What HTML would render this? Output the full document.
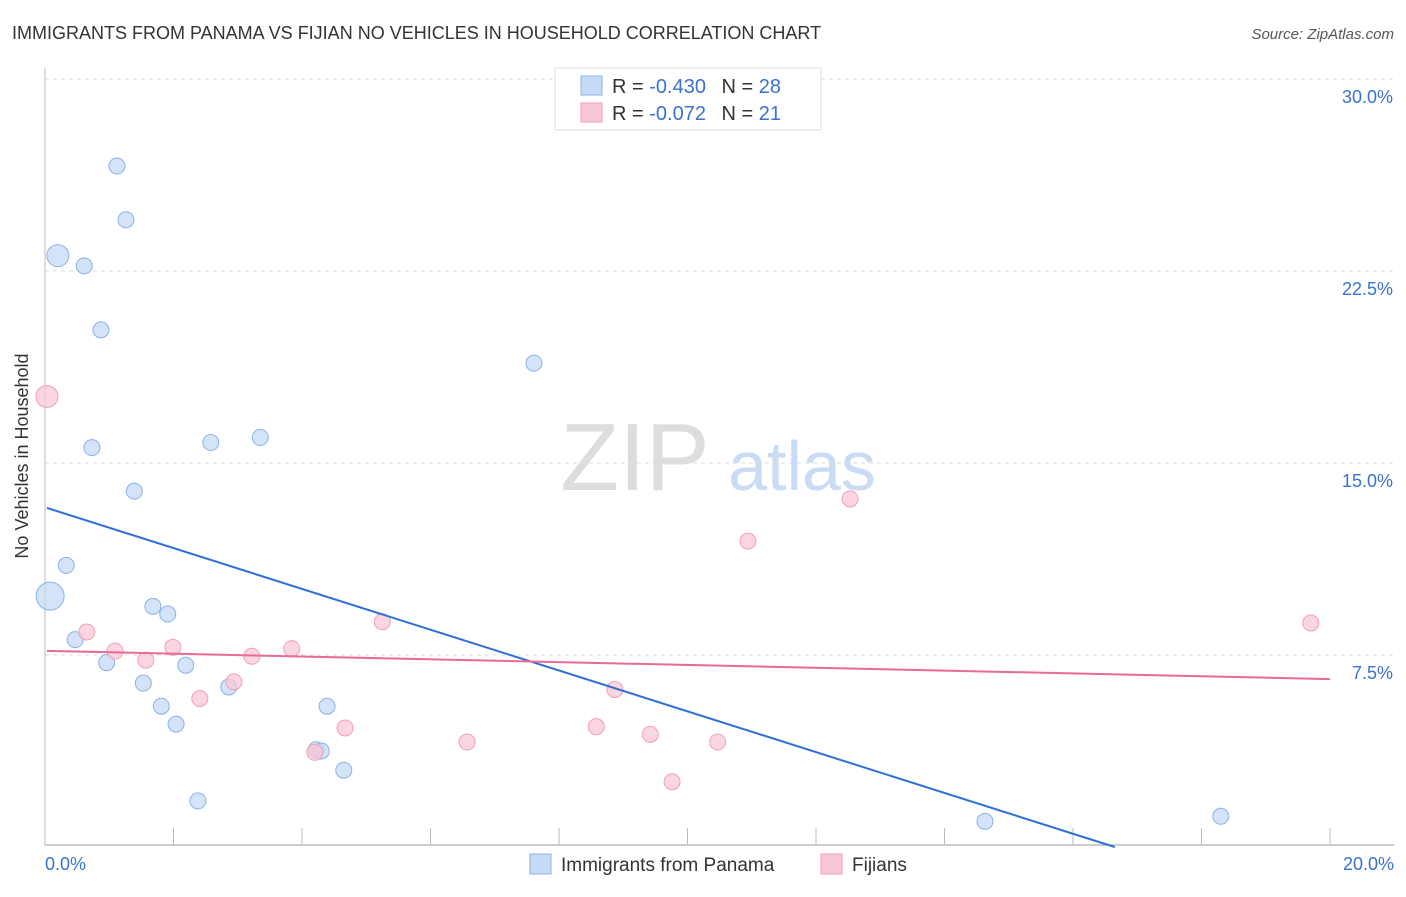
<!DOCTYPE html>
<html><head><meta charset="utf-8"><style>
body{margin:0;background:#fff;font-family:"Liberation Sans",sans-serif;}
svg text{font-family:"Liberation Sans",sans-serif;}
</style></head><body>
<svg width="1406" height="892" id="c">
<text x="12" y="39" font-size="18" fill="#333">IMMIGRANTS FROM PANAMA VS FIJIAN NO VEHICLES IN HOUSEHOLD CORRELATION CHART</text>
<text x="1394" y="39" font-size="15" fill="#555" font-style="italic" text-anchor="end">Source: ZipAtlas.com</text>
<text x="28" y="456" font-size="18" fill="#333" text-anchor="middle" transform="rotate(-90 28 456)">No Vehicles in Household</text>
<g><text x="635" y="490" font-size="96" fill="#ddd" font-family="Liberation Serif" text-anchor="middle">ZIP</text><text x="802" y="490" font-size="70" fill="#c9dcf3" text-anchor="middle">atlas</text></g>
<g id="grid"></g><g id="marks"></g>
<g>
<rect x="555" y="68" width="266" height="62" fill="#fff" stroke="#ddd"/>
<rect x="581" y="76" width="21" height="19" fill="#c5daf5" stroke="#8ab2e6"/>
<rect x="581" y="103" width="21" height="19" fill="#f9c7d6" stroke="#efa0b8"/>
<text x="612" y="93" font-size="20" fill="#333">R = <tspan fill="#3a72d1">-0.430</tspan>  <tspan dx="10">N = </tspan><tspan fill="#3a72d1">28</tspan></text>
<text x="612" y="120" font-size="20" fill="#333">R = <tspan fill="#3a72d1">-0.072</tspan>  <tspan dx="10">N = </tspan><tspan fill="#3a72d1"> 21</tspan></text>
</g>
<g>
<rect x="530" y="854" width="21" height="20" fill="#c5daf5" stroke="#8ab2e6"/>
<text x="561" y="871" font-size="19" fill="#333">Immigrants from Panama</text>
<rect x="821" y="854" width="21" height="20" fill="#f9c7d6" stroke="#efa0b8"/>
<text x="852" y="871" font-size="19" fill="#333">Fijians</text>
</g>
</svg>
<script>
const xTicks=[0,20];
const yTicks=[7.5,15,22.5,30];
const panamaX=[1.12,1.26,0.2,0.61,0.87,7.61,0.73,2.58,3.35,1.39,0.33,0.08,1.68,1.91,0.47,0.96,2.19,1.53,2.86,1.81,2.04,4.39,4.22,4.3,4.65,2.38,14.63,18.3];
const panamaY=[26.6,24.5,23.1,22.7,20.2,18.9,15.6,15.8,16.0,13.9,11.0,9.8,9.4,9.1,8.1,7.2,7.1,6.4,6.25,5.5,4.8,5.5,3.8,3.75,3.0,1.8,1.0,1.2];
const panamaR=[8,8,11,8,8,8,8,8,8,8,8,14,8,8,8,8,8,8,8,8,8,8,8,8,8,8,8,8];
const fijiX=[0.03,0.65,1.09,1.57,1.99,3.22,3.84,2.94,2.41,5.25,4.67,4.2,6.57,8.58,8.87,9.42,9.76,10.47,10.94,12.53,19.7];
const fijiY=[17.6,8.4,7.65,7.3,7.8,7.45,7.75,6.45,5.8,8.8,4.65,3.7,4.1,4.7,6.15,4.4,2.55,4.1,11.95,13.6,8.75];
const fijiR=[11,8,8,8,8,8,8,8,8,8,8,8,8,8,8,8,8,8,8,8,8];
const panamaTrend=[13.27,-0.797];
const fijiTrend=[7.66,-0.055];
const X=v=>45+v*64.25, Y=v=>847-v*25.6;
const NS='http://www.w3.org/2000/svg';
function mk(t,a,p){const e=document.createElementNS(NS,t);for(const k in a)e.setAttribute(k,a[k]);p.appendChild(e);return e;}
const g=document.getElementById('grid'),m=document.getElementById('marks');
yTicks.forEach(t=>{const l=mk('line',{x1:45,x2:1394,y1:Y(t),y2:Y(t),stroke:'#ddd','stroke-dasharray':'4 4'},g);


const tx=mk('text',{x:1393,y:Y(t)+24,'font-size':18,fill:'#3a72d1','text-anchor':'end'},g);tx.textContent=t.toFixed(1)+'%';

});
mk('line',{x1:45,x2:45,y1:68,y2:845,stroke:'#bbb'},g);
mk('line',{x1:45,x2:1394,y1:845,y2:845,stroke:'#bbb','stroke-width':1.5},g);
for(let i=1;i<=10;i++){mk('line',{x1:X(i*2),x2:X(i*2),y1:828,y2:845,stroke:'#bbb'},g);}
xTicks.forEach((t,i)=>{const tx=mk('text',{x:i?1394:45,y:870,'font-size':18,fill:'#3a72d1','text-anchor':i?'end':'start'},g);tx.textContent=t.toFixed(1)+'%';

});
panamaX.forEach((v,i)=>{const c=mk('circle',{cx:X(v),cy:Y(panamaY[i]),r:panamaR[i],fill:'#c5daf5','fill-opacity':0.75,stroke:'#8ab2e6'},m);

});
fijiX.forEach((v,i)=>{const c=mk('circle',{cx:X(v),cy:Y(fijiY[i]),r:fijiR[i],fill:'#f9c7d6','fill-opacity':0.75,stroke:'#efa0b8'},m);

});
const xe=-panamaTrend[0]/panamaTrend[1];
const l1=mk('line',{x1:X(0.03),y1:Y(panamaTrend[0]+panamaTrend[1]*0.03),x2:X(xe),y2:Y(0),stroke:'#2f6fd6','stroke-width':2},m);


const l2=mk('line',{x1:X(0.03),y1:Y(fijiTrend[0]),x2:X(20),y2:Y(fijiTrend[0]+fijiTrend[1]*20),stroke:'#e76a98','stroke-width':2},m);


</script>
</body></html>
